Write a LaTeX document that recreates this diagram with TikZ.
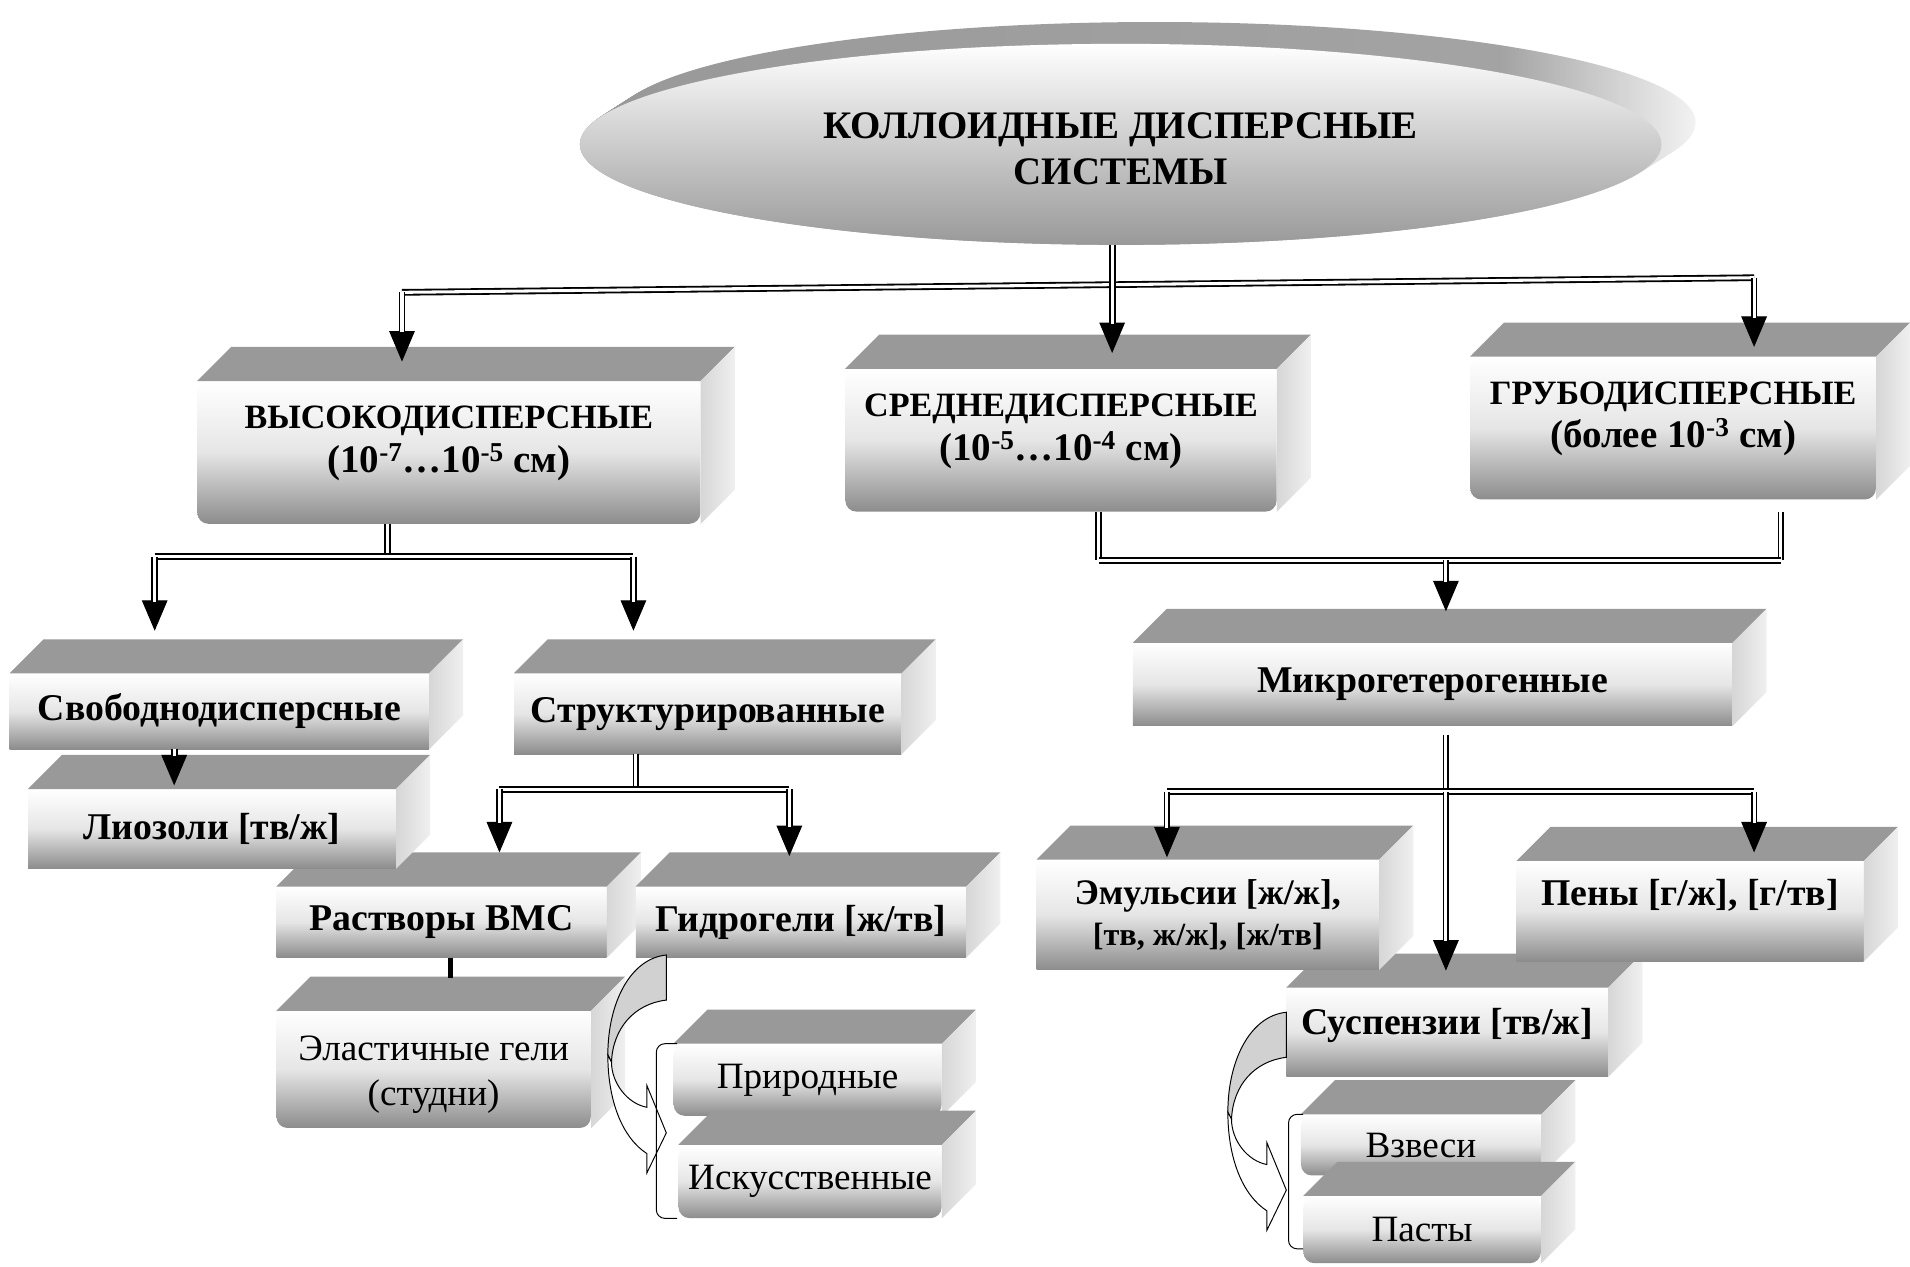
\documentclass[tikz,border=0pt]{standalone}
\usepackage{fontspec}
\setmainfont{Liberation Serif}
\usetikzlibrary{shapes.geometric,arrows.meta}
\newcommand{\titlefont}{\fontsize{32}{38}\selectfont\bfseries}
\newcommand{\topfont}{\fontsize{28}{36}\selectfont\bfseries}
\newcommand{\rangefont}{\fontsize{32}{36}\selectfont}
\newcommand{\boxfont}{\fontsize{31}{36}\selectfont\bfseries}
\newcommand{\thinfont}{\fontsize{30.5}{37}\selectfont}
\pgfdeclarehorizontalshading{rimshade}{100bp}{color(0bp)=(black!40); color(25bp)=(black!40); color(66bp)=(black!36); color(75bp)=(black!5); color(100bp)=(black!5)}
% top and right faces of a box
\newcommand{\cubefaces}[1]{%
  \fill[topface] (#1.north west) -- ++(28,-28) -- ([shift={(28,-28)}]#1.north east) -- (#1.north east) -- cycle;
  \shade[sideface] (#1.north east) -- ++(28,-28) -- ([shift={(28,-28)}]#1.south east) -- (#1.south east) -- cycle;}
% curved block arrow, tail top at (#1,#2)
\newcommand{\bendarrow}[2]{%
  \begin{scope}[shift={(#1,#2)}]
    \filldraw[bendgray] (0,0) .. controls (-30,3) and (-48,40) .. (-48,82) -- (-45,88) .. controls (-44,60) and (-26,40) .. (0,37) -- cycle;
    \filldraw[bendwhite] (-48,82) .. controls (-48,120) and (-36,150) .. (-16,163) -- (-16,179) -- (0,146) -- (-16,107) -- (-16,125) .. controls (-32,122) and (-45,105) .. (-45,88) -- cycle;
  \end{scope}}
\begin{document}
\begin{tikzpicture}[x=1pt, y=-1pt,
  cube/.style={rectangle, inner sep=0pt, top color=white, bottom color=black!45, middle color=black!10, font=\boxfont},
  cuber/.style={cube, rounded corners=9pt},
  thin/.style={font=\thinfont},
  topface/.style={fill=black!40},
  sideface/.style={left color=black!16, right color=black!6},
  dbl/.style={draw, line width=1.5pt, double=white, double distance=2.5pt},
  dbla/.style={draw, line width=0.8pt, -{Triangle[width=21pt,length=25pt]}, postaction={draw, -, line width=1.5pt, double=white, double distance=2.5pt, shorten >=24pt}},
  bendgray/.style={draw, line width=0.8pt, fill=black!18},
  bendwhite/.style={draw, line width=0.8pt, fill=white},
  bracket/.style={draw, line width=0.8pt, rounded corners=7pt}]
\useasboundingbox (0,0) rectangle (1568,1040);
\fill[white] (0,0) rectangle (1568,1040);

% title disc
\foreach \k in {0,...,28}
  \shade[shading=rimshade] ({920+\k},{118.5-0.64*\k}) ellipse [x radius=444, y radius=82.5];
\node[ellipse, minimum width=888pt, minimum height=165pt, inner sep=0pt, top color=white, bottom color=black!40, align=center, font=\titlefont] (coll) at (920,118.5) {\rule{0pt}{29pt}КОЛЛОИДНЫЕ ДИСПЕРСНЫЕ\\СИСТЕМЫ};

% first level
\node[cuber, font=\topfont, align=center, minimum width=413pt, minimum height=117pt] (vys) at (368.5,371.5) {ВЫСОКОДИСПЕРСНЫЕ\\{\rangefont(10\textsuperscript{-7}…10\textsuperscript{-5} см)}\\[-14pt]\mbox{}};
\cubefaces{vys}
\node[cuber, font=\topfont, align=center, minimum width=354pt, minimum height=117pt] (sred) at (871,361.5) {СРЕДНЕДИСПЕРСНЫЕ\\{\rangefont(10\textsuperscript{-5}…10\textsuperscript{-4} см)}\\[-14pt]\mbox{}};
\cubefaces{sred}
\node[cuber, font=\topfont, align=center, minimum width=333pt, minimum height=117pt] (grub) at (1373.5,351.5) {ГРУБОДИСПЕРСНЫЕ\\{\rangefont(более 10\textsuperscript{-3} см)}\\[-14pt]\mbox{}};
\cubefaces{grub}

% left branch
\node[cube, minimum width=271pt, minimum height=58pt] (rastv) at (362.5,757) {Растворы ВМС};
\cubefaces{rastv}
\node[cube, minimum width=271pt, minimum height=58pt] (gidro) at (657.5,757) {Гидрогели [ж/тв]};
\cubefaces{gidro}
\node[cube, minimum width=344pt, minimum height=62pt] (svob) at (180,584) {Свободнодисперсные};
\cubefaces{svob}
\node[cube, minimum width=302pt, minimum height=65pt] (lio) at (174,680.5) {Лиозоли [тв/ж]};
\cubefaces{lio}
\node[cube, minimum width=318pt, minimum height=66pt] (strukt) at (581,586) {Структурированные};
\cubefaces{strukt}
\node[cuber, thin, align=center, minimum width=258pt, minimum height=96pt] (elast) at (356,878) {\rule{0pt}{29pt}Эластичные гели\\(студни)};
\cubefaces{elast}
\node[cuber, thin, minimum width=220pt, minimum height=59pt] (prir) at (663,886.5) {Природные};
\cubefaces{prir}
\node[cuber, thin, minimum width=216pt, minimum height=60pt] (isk) at (665,970) {Искусственные};
\cubefaces{isk}

% right branch
\node[cube, minimum width=492pt, minimum height=68pt] (mikro) at (1176,562) {Микрогетерогенные};
\cubefaces{mikro}
\node[cube, text depth=18pt, minimum width=264pt, minimum height=73pt] (susp) at (1188,847.5) {Суспензии [тв/ж]};
\cubefaces{susp}
\node[cube, font=\fontsize{29.5}{34}\selectfont\bfseries, align=center, minimum width=281pt, minimum height=90pt] (emul) at (991.5,751) {Эмульсии [ж/ж],\\{\fontsize{26.5}{30}\selectfont [тв, ж/ж], [ж/тв]}};
\cubefaces{emul}
\node[cube, text depth=30pt, minimum width=285pt, minimum height=82pt] (peny) at (1387.5,748) {Пены [г/ж], [г/тв]};
\cubefaces{peny}
\node[cuber, thin, minimum width=197pt, minimum height=50pt] (vzv) at (1166.5,940) {Взвеси};
\cubefaces{vzv}
\node[cuber, thin, minimum width=195pt, minimum height=55pt] (past) at (1167.5,1009.5) {Пасты};
\cubefaces{past}

% connectors
\coordinate (t1) at (330,240);
\coordinate (t2) at (1440,228);
\draw[dbl] (t1) -- (t2);
\draw[dbla] ([xshift=-7pt]coll.south) -- ([xshift=42pt,yshift=13pt]sred.north);
\draw[dbla] (t1) -- ([xshift=-38.5pt,yshift=16pt]vys.north);
\draw[dbla] (t2) -- ([xshift=66.5pt,yshift=8pt]grub.north);

\coordinate (v0) at (318,457);
\coordinate (v1) at (127,457);
\coordinate (v2) at (520,457);
\draw[dbl] ([xshift=-50.5pt]vys.south) -- (v0);
\draw[dbl] (v1) -- (v2);
\draw[dbla] (v1) -- ([xshift=-53pt,yshift=35pt]svob.north);
\draw[dbla] (v2) -- ([xshift=-61pt,yshift=35pt]strukt.north);
\draw[dbla] ([xshift=-37pt]svob.south) -- ([xshift=-31pt,yshift=3pt]lio.north);

\coordinate (s0) at (522,648);
\coordinate (s1) at (410,648);
\coordinate (s2) at (648,648);
\draw[dbl] ([xshift=-59pt]strukt.south) -- (s0);
\draw[dbl] (s1) -- (s2);
\draw[dbla] (s1) -- ([xshift=47.5pt,yshift=28pt]rastv.north);
\draw[dbla] (s2) -- ([xshift=-9.5pt,yshift=25pt]gidro.north);
\draw[line width=4.5pt] ([xshift=7.5pt]rastv.south) -- ([xshift=14pt,yshift=27pt]elast.north);

\coordinate (m1) at (902,460);
\coordinate (m2) at (1462,460);
\coordinate (m0) at (1187,460);
\draw[dbl] ([xshift=31pt]sred.south) -- (m1);
\draw[dbl] ([xshift=88.5pt,yshift=-10pt]grub.south) -- (m2);
\draw[dbl] (m1) -- (m2);
\draw[dbla] (m0) -- ([xshift=11pt,yshift=26pt]mikro.north);

\coordinate (k0) at (1187,650);
\coordinate (k1) at (958,650);
\coordinate (k2) at (1440,650);
\draw[dbl] ([xshift=11pt,yshift=-7pt]mikro.south) -- (k0);
\draw[dbl] (k1) -- (k2);
\draw[dbla] (k1) -- ([xshift=-33.5pt,yshift=2pt]emul.north);
\draw[dbla] (k2) -- ([xshift=52.5pt,yshift=7pt]peny.north);
\draw[dbla] (k0) -- ([xshift=-1pt,yshift=14pt]susp.north);

% curved arrows and brackets
\bendarrow{547}{784}
\draw[bracket] ([xshift=3pt]prir.north west) -- ++(-17,0) |- ([xshift=-1pt]isk.south west);
\bendarrow{1056}{831}
\draw[bracket] ([xshift=2pt]vzv.north west) -- ++(-12,0) |- ([yshift=12pt]past.south west);
\end{tikzpicture}
\end{document}
